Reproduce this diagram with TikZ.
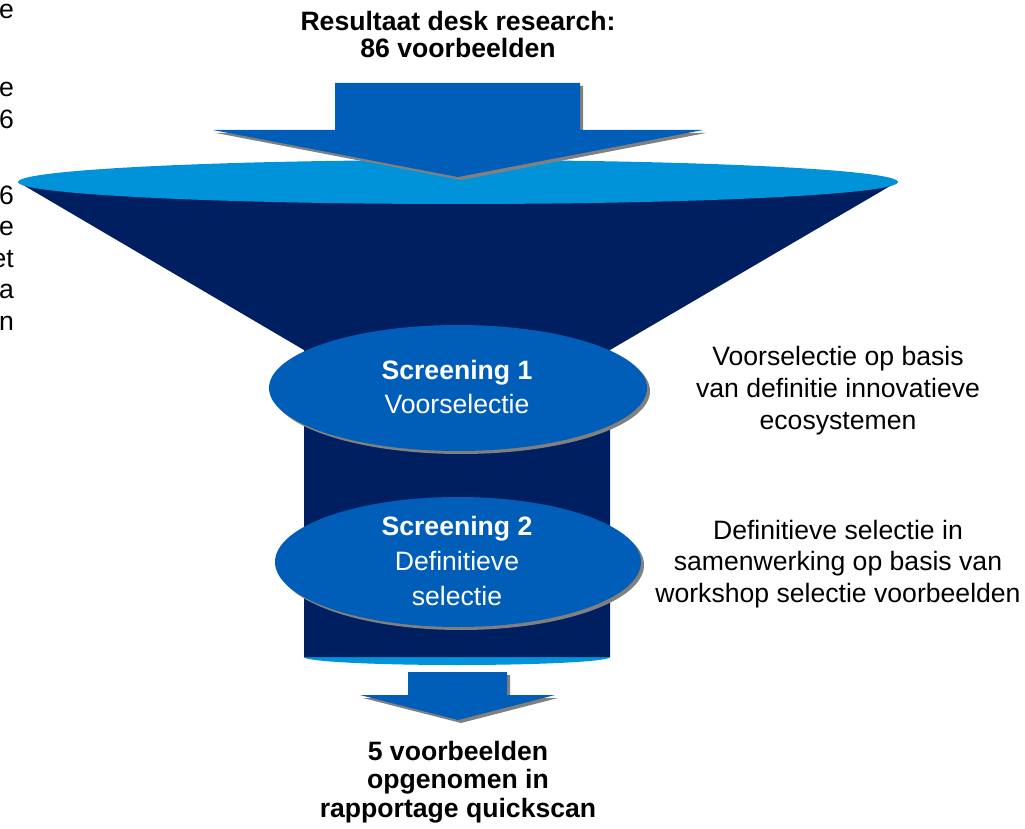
\documentclass[tikz,border=0pt]{standalone}
\usepackage{fontspec}
\setmainfont{Liberation Sans}
\usetikzlibrary{shapes.geometric}
\definecolor{midblue}{RGB}{0,94,184}
\definecolor{lightblue}{RGB}{0,147,218}
\definecolor{navy}{RGB}{0,31,96}
\definecolor{shadowgray}{RGB}{128,128,128}
\tikzset{
  txt/.style={inner sep=0pt, anchor=base, font=\fontsize{26.6}{31.5}\selectfont},
  btxt/.style={txt, font=\fontsize{26.6}{31.5}\selectfont\bfseries},
  wtxt/.style={txt, text=white},
  wbtxt/.style={btxt, text=white},
  frag/.style={txt, anchor=base east},
  screen/.style={fill=midblue, draw=none},
  shade/.style={fill=shadowgray, draw=none}
}
\begin{document}
\begin{tikzpicture}[x=1pt,y=-1pt]
\useasboundingbox (0,0) rectangle (1025,829);

% cut-off text fragments at left edge
\node[frag] (f1) at (14,19) {e};
\node[frag] (f2) at (14,97) {e};
\node[frag] (f3) at (14,129) {6};
\node[frag] (f4) at (14,204.5) {6};
\node[frag] (f5) at (14,235.5) {e};
\node[frag] (f6) at (14,267) {et};
\node[frag] (f7) at (14,298.5) {a};
\node[frag] (f8) at (14,330) {n};

% bottom rim of cylinder
\fill[lightblue] (457,657) ellipse [x radius=153, y radius=8];
% funnel body
\fill[navy] (18,182) -- (897,182) -- (610,350) -- (610,657) -- (304,657) -- (304,350) -- cycle;
% top rim
\fill[lightblue] (458,182) ellipse [x radius=440, y radius=22];

% top arrow
\fill[shade] (338,86) -- (583,86) -- (583,133) -- (706,133) -- (461,180) -- (216,133) -- (338,133) -- cycle;
\fill[midblue] (335,83) -- (580,83) -- (580,130) -- (703,130) -- (458,177) -- (213,130) -- (335,130) -- cycle;

% screening ellipses
\fill[shade] (461,391) ellipse [x radius=189, y radius=63];
\fill[screen] (458,388) ellipse [x radius=189, y radius=63];
\fill[shade] (461,565) ellipse [x radius=183, y radius=65];
\fill[screen] (458,562) ellipse [x radius=183, y radius=65];

% bottom arrow
\fill[shade] (411,675) -- (510,675) -- (510,698) -- (558,698) -- (461,723) -- (363,698) -- (411,698) -- cycle;
\fill[midblue] (408,672) -- (507,672) -- (507,695) -- (555,695) -- (458,720) -- (360,695) -- (408,695) -- cycle;

% texts
\node[btxt] (t1) at (458,31) {Resultaat desk research:};
\node[btxt] (t2) at (458,58) {86 voorbeelden};

\node[wbtxt] (s1a) at (457,379) {Screening 1};
\node[wtxt] (s1b) at (457,413) {Voorselectie};

\node[wbtxt] (s2a) at (457,535) {Screening 2};
\node[wtxt] (s2b) at (457,570) {Definitieve};
\node[wtxt] (s2c) at (457,605) {selectie};

\node[txt] (r1a) at (838,365) {Voorselectie op basis};
\node[txt] (r1b) at (838,397) {van definitie innovatieve};
\node[txt] (r1c) at (838,429) {ecosystemen};

\node[txt] (r2a) at (838,539) {Definitieve selectie in};
\node[txt] (r2b) at (838,570) {samenwerking op basis van};
\node[txt] (r2c) at (838,602) {workshop selectie voorbeelden};

\node[btxt] (b1) at (458,760) {5 voorbeelden};
\node[btxt] (b2) at (458,788) {opgenomen in};
\node[btxt] (b3) at (458,817) {rapportage quickscan};
\end{tikzpicture}
\end{document}
